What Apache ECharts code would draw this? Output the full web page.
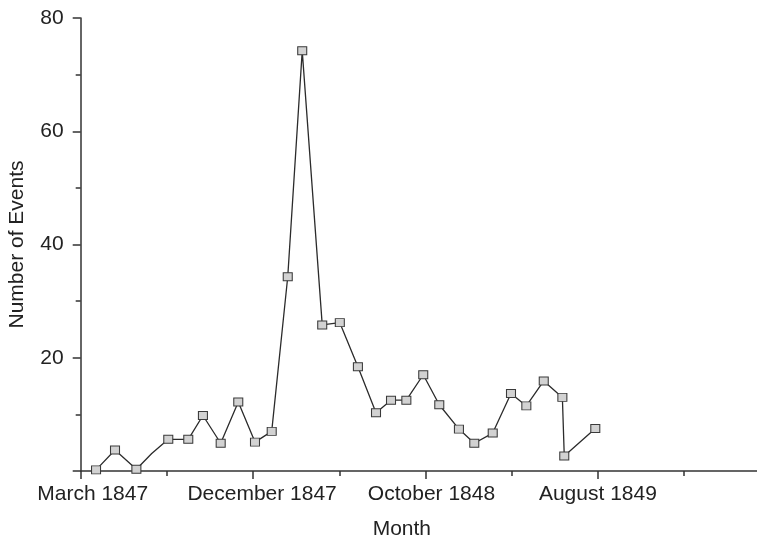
<!DOCTYPE html>
<html>
<head>
<meta charset="utf-8">
<script src="https://cdn.jsdelivr.net/npm/echarts@6/dist/echarts.min.js"></script>
<style>
  html, body { margin: 0; padding: 0; background: #fff; }
  #chart { width: 757px; height: 543px; }
</style>
</head>
<body>
<div id="chart"></div>
<script>
// months counted from March 1847
const monthPos = [0.89, 1.99, 3.23, 4.12, 5.08, 6.24, 7.09, 8.12, 9.14, 10.11,
  11.08, 12.01, 12.85, 14.01, 15.03, 16.08, 17.13, 18.0, 18.89, 19.87,
  20.8, 21.94, 22.83, 23.9, 24.96, 25.85, 26.86, 27.94, 28.05, 29.85];
const events = [0.2, 3.7, 0.3, 3.1, 5.6, 5.6, 9.8, 4.9, 12.2, 5.1,
  7.0, 34.3, 74.2, 25.8, 26.2, 18.4, 10.3, 12.5, 12.5, 17.0,
  11.7, 7.4, 4.9, 6.7, 13.7, 11.5, 15.9, 13.0, 2.65, 7.5];
const noMarker = [3]; // vertex without a square
const tickValues = [0, 10, 20, 30];
const tickLabels = ['March 1847', 'December 1847', 'October 1848', 'August 1849'];

const font = "'Liberation Sans', Arial, sans-serif";
const ink = '#222';

const seriesData = monthPos.map((m, i) => {
  const item = { value: [m, events[i]] };
  if (noMarker.includes(i)) item.symbol = 'none';
  return item;
});

// the labels in the original sit a bit right of their ticks
const labelStyles = ['l0', 'l1', 'l2', 'l3'];
const rich = {
  l0: { padding: [0, 0, 0, 24] },
  l1: { padding: [0, 0, 0, 18] },
  l2: { padding: [0, 0, 0, 12] },
  l3: { padding: [0, 0, 0, 0] }
};
Object.values(rich).forEach(r => { r.fontFamily = font; r.fontSize = 21; r.color = ink; });

const chart = echarts.init(document.getElementById('chart'));

const option = {
  animation: false,
  grid: { left: 80.7, right: -10, top: 18, bottom: 72, containLabel: false, outerBoundsMode: 'none' },
  xAxis: [{
    type: 'value',
    min: 0,
    max: 39.81,
    interval: 5,
    name: 'Month',
    nameLocation: 'middle',
    nameGap: 48,
    nameTextStyle: { fontFamily: font, fontSize: 21, color: ink, padding: [0, 44, 0, 0] },
    axisLine: { show: true, onZero: false, lineStyle: { color: '#333', width: 1.5 } },
    axisTick: { show: true, length: 5, lineStyle: { color: '#333', width: 1.5 } },
    axisLabel: {
      margin: 13,
      fontFamily: font, fontSize: 21, color: ink,
      rich: rich,
      formatter: v => {
        const i = tickValues.indexOf(v);
        return i < 0 ? '' : `{${labelStyles[i]}|${tickLabels[i]}}`;
      }
    },
    splitLine: { show: false }
  }, {
    // longer ticks at the labelled months
    type: 'value',
    position: 'bottom',
    min: 0,
    max: 39.81,
    interval: 10,
    axisLine: { show: false },
    axisTick: { show: true, length: 8, lineStyle: { color: '#333', width: 1.5 } },
    axisLabel: { show: false },
    splitLine: { show: false }
  }],
  yAxis: {
    type: 'value',
    min: 0,
    max: 80,
    interval: 20,
    name: 'Number of Events',
    nameLocation: 'middle',
    nameGap: 53,
    nameTextStyle: { fontFamily: font, fontSize: 21, color: ink },
    axisLine: { show: true, lineStyle: { color: '#333', width: 1.5 } },
    axisTick: { show: true, length: 8, lineStyle: { color: '#333', width: 1.5 } },
    minorTick: { show: true, splitNumber: 2, length: 5, lineStyle: { color: '#333', width: 1.5 } },
    axisLabel: {
      margin: 17,
      fontFamily: font, fontSize: 21, color: ink,
      formatter: v => (v === 0 ? '' : v)
    },
    splitLine: { show: false },
    minorSplitLine: { show: false }
  },
  series: [{
    type: 'line',
    data: seriesData,
    symbol: 'rect',
    symbolSize: [9, 8],
    showAllSymbol: true,
    lineStyle: { color: '#2b2b2b', width: 1.3 },
    itemStyle: { color: '#d2d2d2', borderColor: '#3a3a3a', borderWidth: 1 }
  }]
};

chart.setOption(option);
</script>
</body>
</html>
